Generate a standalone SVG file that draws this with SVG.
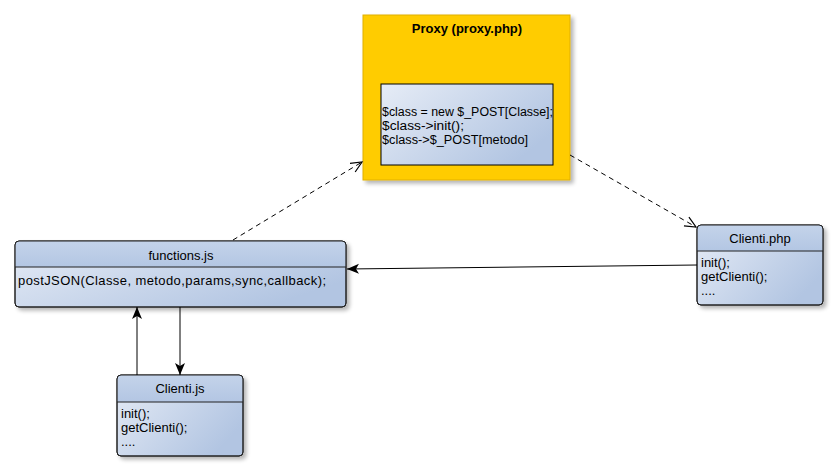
<svg xmlns="http://www.w3.org/2000/svg" width="839" height="472" viewBox="0 0 839 472">
<defs>
<linearGradient id="body" x1="0" y1="0" x2="1" y2="0.6">
<stop offset="0" stop-color="#e6ecf6"/>
<stop offset="1" stop-color="#b2c5e2"/>
</linearGradient>
<linearGradient id="head" x1="0" y1="0" x2="0" y2="1">
<stop offset="0" stop-color="#c4d3ea"/>
<stop offset="1" stop-color="#b3c6e3"/>
</linearGradient>
<filter id="sh" x="-10%" y="-10%" width="130%" height="140%">
<feGaussianBlur in="SourceAlpha" stdDeviation="2"/>
<feOffset dx="3" dy="3" result="b"/>
<feComponentTransfer><feFuncA type="linear" slope="0.3"/></feComponentTransfer>
<feMerge><feMergeNode/><feMergeNode in="SourceGraphic"/></feMerge>
</filter>
<marker id="open" markerWidth="14" markerHeight="14" refX="12" refY="6" orient="auto" markerUnits="userSpaceOnUse">
<path d="M1,1 L12,6 L1,11" fill="none" stroke="#000" stroke-width="1.2"/>
</marker>
<marker id="fill" markerWidth="14" markerHeight="12" refX="12" refY="5" orient="auto" markerUnits="userSpaceOnUse">
<path d="M0,0 L12,5 L0,10 L3,5 Z" fill="#000"/>
</marker>
</defs>
<style>
text{font-family:"Liberation Sans",Arial,sans-serif;font-size:13px;fill:#000}
.t{text-anchor:middle}
.b{font-weight:bold}
.box{fill:url(#body);stroke:#222;stroke-width:1}
.sep{stroke:#222;stroke-width:1}
.dash{stroke:#000;stroke-width:1;fill:none;stroke-dasharray:5,4}
.solid{stroke:#000;stroke-width:1;fill:none}
</style>
<g id="proxy">
<rect x="363" y="15" width="207" height="165" fill="#ffcc00" stroke="#e0b000" filter="url(#sh)"/>
<text class="t b" x="467" y="33">Proxy (proxy.php)</text>
<rect x="381" y="84" width="172" height="81" fill="url(#body)" stroke="#000"/>
<text x="382" y="116" style="font-size:12.5px" textLength="171" lengthAdjust="spacingAndGlyphs">$class = new $_POST[Classe];</text>
<text x="382" y="130" style="font-size:12.5px" textLength="82" lengthAdjust="spacingAndGlyphs">$class-&gt;init();</text>
<text x="382" y="144" style="font-size:12.5px" textLength="146" lengthAdjust="spacingAndGlyphs">$class-&gt;$_POST[metodo]</text>
</g>
<g id="functions">
<rect class="box" x="15" y="241" width="331" height="66" rx="4" filter="url(#sh)"/>
<path d="M15.5,267 V245 a4,4 0 0 1 4,-4 H341.5 a4,4 0 0 1 4,4 V267 Z" fill="url(#head)"/>
<line class="sep" x1="15" y1="267" x2="346" y2="267"/>
<rect x="15" y="241" width="331" height="66" rx="4" fill="none" stroke="#222"/>
<text class="t" x="181" y="260">functions.js</text>
<text x="18" y="285" textLength="308">postJSON(Classe, metodo,params,sync,callback);</text>
</g>
<g id="clientiphp">
<rect class="box" x="697" y="225" width="126" height="80" rx="4" filter="url(#sh)"/>
<path d="M697.5,251 V229 a4,4 0 0 1 4,-4 H818.5 a4,4 0 0 1 4,4 V251 Z" fill="url(#head)"/>
<line class="sep" x1="697" y1="251" x2="823" y2="251"/>
<rect x="697" y="225" width="126" height="80" rx="4" fill="none" stroke="#222"/>
<text class="t" x="760" y="243">Clienti.php</text>
<text x="701" y="267">init();</text>
<text x="701" y="281">getClienti();</text>
<text x="701" y="295">....</text>
</g>
<g id="clientijs">
<rect class="box" x="117" y="375" width="126" height="81" rx="4" filter="url(#sh)"/>
<path d="M117.5,402 V379 a4,4 0 0 1 4,-4 H238.5 a4,4 0 0 1 4,4 V402 Z" fill="url(#head)"/>
<line class="sep" x1="117" y1="402" x2="243" y2="402"/>
<rect x="117" y="375" width="126" height="81" rx="4" fill="none" stroke="#222"/>
<text class="t" x="180" y="393">Clienti.js</text>
<text x="121" y="418">init();</text>
<text x="121" y="432">getClienti();</text>
<text x="121" y="446">....</text>
</g>
<g id="connectors">
<line class="dash" x1="233" y1="240" x2="362" y2="162" marker-end="url(#open)"/>
<line class="dash" x1="570" y1="155" x2="696" y2="227" marker-end="url(#open)"/>
<line class="solid" x1="697" y1="265" x2="347" y2="269" marker-end="url(#fill)"/>
<line class="solid" x1="137" y1="375" x2="137" y2="307" marker-end="url(#fill)"/>
<line class="solid" x1="180" y1="307" x2="180" y2="375" marker-end="url(#fill)"/>
</g>
</svg>
